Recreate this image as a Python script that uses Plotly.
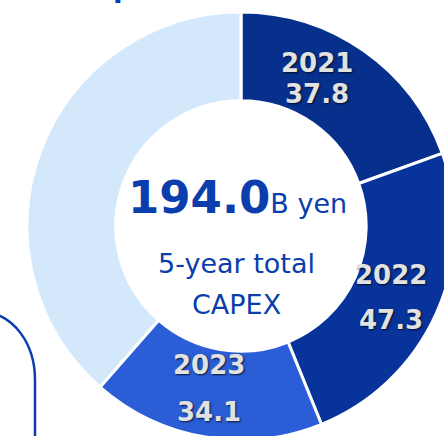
import math
import plotly.graph_objects as go

# Data
labels = ["2021", "2022", "2023", "2024-2025"]
values = [37.8, 47.3, 34.1, 74.8]
value_text = ["37.8", "47.3", "34.1", ""]
total_value = "194.0"
total_unit = "B yen"
center_caption = ["5-year total", "CAPEX"]

colors = ["#06308C", "#07339A", "#2A5DD6", "#D4E8FC"]

W, H = 456, 440
cx, cy, R = 241, 226, 214  # pixel centre and radius of the donut
label_r = 166
label_angle_shift = [-8, 1.5, 1.5, 0]
label_gap = [31, 45, 47, 0]


def px(x):
    return x / W


def py(y):
    return 1 - y / H


fig = go.Figure()
fig.add_trace(go.Pie(
    labels=labels,
    values=values,
    textinfo="none",
    hoverinfo="label+value",
    sort=False,
    direction="clockwise",
    rotation=0,
    hole=0.585,
    marker=dict(colors=colors, line=dict(color="white", width=3)),
    domain=dict(x=[px(cx - R), px(cx + R)], y=[py(cy + R), py(cy - R)]),
    showlegend=False,
))

# slice labels placed at each slice's mid angle (computed from the values)
total = sum(values)
cum = 0.0
lab_font = dict(family="DejaVu Sans", size=26, color="#E2E2E2",
                shadow="1px 1px 2px rgba(0,0,0,0.75)")
for i, v in enumerate(values):
    mid = (cum + v / 2) / total * 360 + label_angle_shift[i]
    cum += v
    if not value_text[i]:
        continue
    lx = cx + label_r * math.sin(math.radians(mid))
    ly = cy - label_r * math.cos(math.radians(mid))
    g = label_gap[i] / 2
    fig.add_annotation(x=px(lx), y=py(ly - g), xref="paper", yref="paper",
                       showarrow=False, text=f"<b>{labels[i]}</b>", font=lab_font,
                       xanchor="center", yanchor="middle")
    fig.add_annotation(x=px(lx), y=py(ly + g), xref="paper", yref="paper",
                       showarrow=False, text=f"<b>{value_text[i]}</b>", font=lab_font,
                       xanchor="center", yanchor="middle")

blue = "#0B3DAC"
fig.add_annotation(
    x=px(237), y=py(197), xref="paper", yref="paper", showarrow=False,
    text=f"<b>{total_value}</b><span style='font-size:27px'>{total_unit}</span>",
    font=dict(family="DejaVu Sans", size=45, color=blue),
    xanchor="center", yanchor="middle",
)
fig.add_annotation(
    x=px(236), y=py(263), xref="paper", yref="paper", showarrow=False,
    text=center_caption[0], font=dict(family="DejaVu Sans", size=27, color=blue),
    xanchor="center", yanchor="middle",
)
fig.add_annotation(
    x=px(236), y=py(304), xref="paper", yref="paper", showarrow=False,
    text=center_caption[1], font=dict(family="DejaVu Sans", size=27, color=blue),
    xanchor="center", yanchor="middle",
)

# cropped title above the chart (only a descender remains visible)
fig.add_annotation(
    x=px(111), y=py(-13), xref="paper", yref="paper", showarrow=False,
    text="<b>p</b>", font=dict(family="DejaVu Sans", size=28, color=blue),
    xanchor="left", yanchor="middle",
)

# rounded box outline at bottom-left
path = (f"M {px(-20)},{py(311)} C {px(15)},{py(313)} {px(35)},{py(345)} {px(35)},{py(380)} "
        f"L {px(35)},{py(460)}")
fig.add_shape(type="path", path=path, xref="paper", yref="paper",
              line=dict(color="#0A3CB0", width=2.5))

fig.update_layout(
    width=W, height=H, autosize=False,
    margin=dict(l=0, r=0, t=0, b=0, pad=0),
    paper_bgcolor="white", plot_bgcolor="white",
)

fig.write_html("out.html", config={"displayModeBar": False},
               post_script="document.body.style.overflow='hidden';document.body.style.margin='0';")
